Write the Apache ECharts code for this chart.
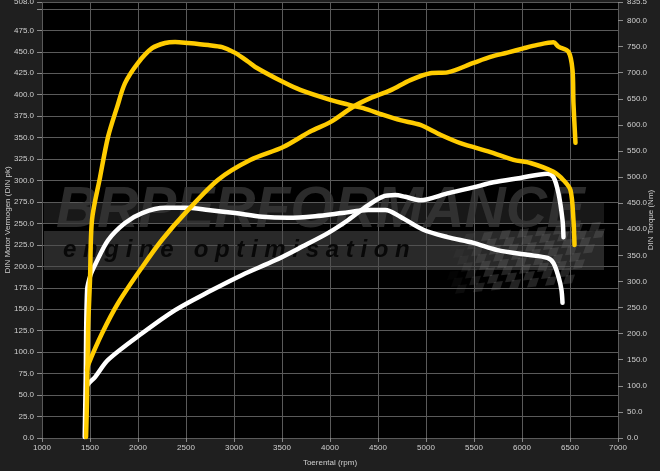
<!DOCTYPE html>
<html>
<head>
<meta charset="utf-8">
<script src="https://cdn.jsdelivr.net/npm/echarts@6/dist/echarts.min.js"></script>
<style>
html,body{margin:0;padding:0;background:#1f1f1f;}
#chart{width:660px;height:471px;}
</style>
</head>
<body>
<div id="chart"></div>
<script>
// ---- data ----
const xTicks = { min: 1000, max: 7000, step: 500 };
const powerAxis = { min: 0, max: 508, step: 25 };
const torqueAxis = { min: 0, max: 835.5, step: 50 };

// Tuned (yellow) torque, Nm
const rpmTorqueTuned = [1459,1469,1480,1500,1521,1605,1688,1782,1865,2001,2147,2282,2387,2522,2731,2877,3012,3148,3221,3513,3690,4003,4211,4347,4555,4732,4941,5150,5358,5671,5911,6088,6328,6432,6505,6536,6547];
const torqueTuned    = [2,73,207,303,418,500,577,634,680,719,747,757,759,757,753,749,738,721,711,682,667,648,638,632,619,609,600,581,565,548,533,527,510,494,475,418,370];

// Tuned (yellow) power, pk
const rpmPowerTuned = [1469,1480,1626,1792,2043,2251,2491,2835,3169,3513,3794,4003,4242,4420,4628,4837,5045,5223,5494,5671,5848,6015,6161,6328,6380,6484,6526,6536,6557];
const powerTuned    = [79,85,122,157,199,231,262,301,324,339,357,368,386,396,405,417,425,426,437,444,449,454,458,461,456,450,429,390,344];

// Stock (white) torque, Nm
const rpmTorqueStock = [1445,1455,1470,1505,1553,1688,1865,2043,2282,2491,2731,3012,3294,3565,3846,4128,4399,4576,4732,4972,5223,5494,5744,6057,6265,6328,6380,6411,6422];
const torqueStock    = [2,111,284,312,332,379,412,431,441,441,437,431,424,422,425,431,437,437,424,399,385,374,360,351,345,335,309,284,259];

// Stock (white) power, pk
const rpmPowerStock = [1460,1475,1553,1688,2043,2387,2731,3085,3429,3711,3982,4190,4368,4545,4680,4784,4941,5223,5494,5702,5983,6265,6328,6380,6422,6432];
const powerStock    = [56,62,71,91,122,149,170,190,207,223,239,254,269,281,283,281,277,285,292,298,303,308,304,285,254,234];

const zip = (xs, ys) => xs.map((x, i) => [x, ys[i]]);

// ---- decorative watermark ----
function checker() {
  const els = [];
  const s = 9;
  for (let j = 0; j < 8; j++) {
    for (let i = 0; i < 18; i++) {
      if ((i + j) % 2) continue;
      const x = 448 + i * s - j * 5;
      const y = 222 + j * s * 0.85 + (17 - i) * 0.8;
      if (x > 606 || x < 430) continue;
      const a = Math.max(0, Math.min(0.32, (i - j * 0.5) / 14));
      if (a <= 0.03) continue;
      els.push({
        type: 'polygon',
        shape: { points: [[x, y], [x + s, y - 1], [x + s - 3, y + s * 0.85], [x - 3, y + s * 0.85 + 1]] },
        style: { fill: 'rgba(110,110,110,' + a.toFixed(2) + ')' },
        silent: true, z: 1
      });
    }
  }
  return els;
}

const font = '"Liberation Sans", Arial, sans-serif';
const chart = echarts.init(document.getElementById('chart'));
chart.setOption({
  backgroundColor: '#1f1f1f',
  animation: false,
  grid: { left: 42, right: 42, top: 2, bottom: 33, outerBoundsMode: 'none', containLabel: false, show: true, backgroundColor: '#000', borderWidth: 0 },
  graphic: [
    { type: 'rect', shape: { x: 44, y: 203, width: 560, height: 20 }, style: { fill: 'rgba(60,60,60,0.4)' }, silent: true, z: 1 },
    { type: 'text', x: 56, y: 211, silent: true, z: 1,
      style: { text: 'BRPERFORMANCE', font: 'italic 900 57px ' + font, fill: 'rgba(58,58,58,0.75)', textVerticalAlign: 'middle' } },
    { type: 'rect', shape: { x: 44, y: 231, width: 560, height: 39 }, style: { fill: 'rgba(75,75,75,0.55)' }, silent: true, z: 1 },
    ...checker(),
    { type: 'text', x: 63, y: 250, silent: true, z: 1,
      style: { text: 'e n g i n e   o p t i m i s a t i o n', font: 'italic bold 24px ' + font, fill: '#080808', textVerticalAlign: 'middle' } }
  ],
  xAxis: {
    type: 'value', min: xTicks.min, max: xTicks.max, interval: xTicks.step,
    name: 'Toerental (rpm)', nameLocation: 'middle', nameGap: 21, nameMoveOverlap: false,
    nameTextStyle: { color: '#cfcfcf', fontSize: 8, fontFamily: font },
    axisLine: { show: false },
    axisTick: { show: true, length: 4, lineStyle: { color: '#8a8a8a' } },
    axisLabel: { color: '#cfcfcf', fontSize: 8, fontFamily: font, margin: 6, formatter: v => String(v) },
    splitLine: { show: true, lineStyle: { color: '#5a5a5a', width: 1 } }
  },
  yAxis: [
    {
      type: 'value', min: powerAxis.min, max: powerAxis.max, interval: powerAxis.step,
      name: 'DIN Motor Vermogen (DIN pk)', nameLocation: 'middle', nameGap: 30, nameMoveOverlap: false,
      nameTextStyle: { color: '#cfcfcf', fontSize: 8, fontFamily: font },
      axisLine: { show: false },
      axisTick: { show: true, length: 5, lineStyle: { color: '#8a8a8a' } },
      axisLabel: { color: '#cfcfcf', fontSize: 8, fontFamily: font, margin: 8,
        formatter: v => (v === 500 ? '' : v.toFixed(1)) },
      splitLine: { show: true, lineStyle: { color: '#5a5a5a', width: 1 } }
    },
    {
      type: 'value', min: torqueAxis.min, max: torqueAxis.max, interval: torqueAxis.step,
      name: 'DIN Torque (Nm)', nameLocation: 'middle', nameGap: 29, nameMoveOverlap: false,
      nameTextStyle: { color: '#cfcfcf', fontSize: 8, fontFamily: font },
      axisLine: { show: false },
      axisTick: { show: true, length: 5, lineStyle: { color: '#8a8a8a' } },
      axisLabel: { color: '#cfcfcf', fontSize: 8, fontFamily: font, margin: 9,
        formatter: v => v.toFixed(1) },
      splitLine: { show: false }
    }
  ],
  series: [
    { name: 'Torque stock', type: 'line', yAxisIndex: 1, data: zip(rpmTorqueStock, torqueStock), smooth: 0.3, symbol: 'none', lineStyle: { color: '#ffffff', width: 4.5, cap: 'round', join: 'round' }, z: 3 },
    { name: 'Power stock', type: 'line', yAxisIndex: 0, data: zip(rpmPowerStock, powerStock), smooth: 0.3, symbol: 'none', lineStyle: { color: '#ffffff', width: 4.5, cap: 'round', join: 'round' }, z: 3 },
    { name: 'Torque tuned', type: 'line', yAxisIndex: 1, data: zip(rpmTorqueTuned, torqueTuned), smooth: 0.3, symbol: 'none', lineStyle: { color: '#ffcc00', width: 4.5, cap: 'round', join: 'round' }, z: 4 },
    { name: 'Power tuned', type: 'line', yAxisIndex: 0, data: zip(rpmPowerTuned, powerTuned), smooth: 0.3, symbol: 'none', lineStyle: { color: '#ffcc00', width: 4.5, cap: 'round', join: 'round' }, z: 4 }
  ]
});
</script>
</body>
</html>
